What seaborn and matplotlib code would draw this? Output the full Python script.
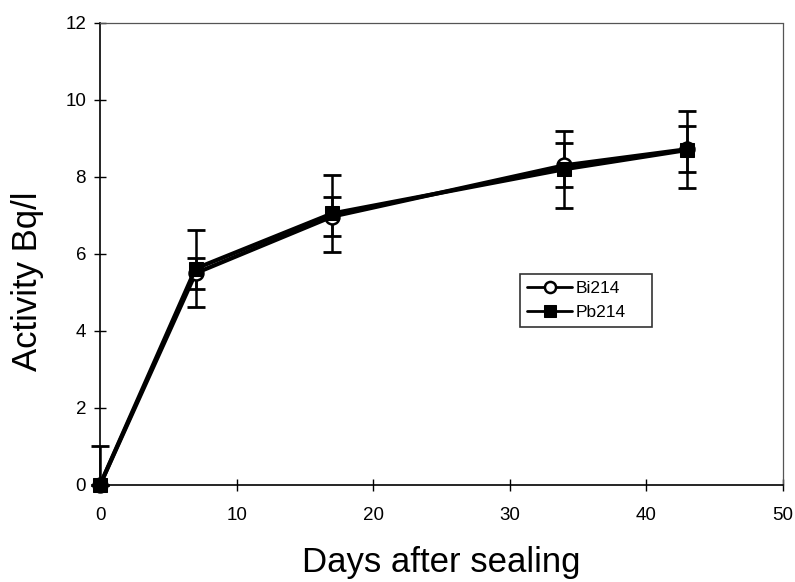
import numpy as np
import pandas as pd
import matplotlib
matplotlib.use("Agg")
import matplotlib.pyplot as plt
import seaborn as sns

# values
days = [0, 7, 17, 34, 43]
bi214 = [0.0, 5.5, 6.97, 8.3, 8.72]
bi214_err = [0.0, 0.4, 0.5, 0.57, 0.6]
pb214 = [0.0, 5.62, 7.05, 8.2, 8.7]
pb214_err_low = [0.0, 1.0, 1.0, 1.0, 1.0]
pb214_err_high = [1.0, 1.0, 1.0, 1.0, 1.0]

df = pd.DataFrame({
    "Days": days * 2,
    "Activity": bi214 + pb214,
    "Nuclide": ["Bi214"] * len(days) + ["Pb214"] * len(days),
})

sns.set_style("ticks")
plt.rcParams["font.family"] = ["Liberation Sans", "DejaVu Sans"]
plt.rcParams["text.color"] = "black"
plt.rcParams["axes.labelcolor"] = "black"

fig = plt.figure(figsize=(7.95, 5.82), dpi=100)
ax = fig.add_axes([0.1258, 0.1667, 0.859, 0.794])

# error bars first so markers sit on top
ax.errorbar(days, pb214, yerr=[pb214_err_low, pb214_err_high], fmt="none",
            ecolor="black", elinewidth=1.8, capsize=6.5, capthick=2,
            zorder=2, clip_on=False)
ax.errorbar(days, bi214, yerr=bi214_err, fmt="none", ecolor="black",
            elinewidth=1.8, capsize=6.5, capthick=2, zorder=2, clip_on=False)

sns.lineplot(data=df, x="Days", y="Activity", hue="Nuclide", style="Nuclide",
             markers={"Bi214": "o", "Pb214": "s"}, dashes=False,
             palette={"Bi214": "black", "Pb214": "black"},
             linewidth=3, markersize=10, ax=ax, zorder=3, clip_on=False)

for line in ax.get_lines():
    if line.get_marker() == "o":
        line.set_markerfacecolor("white")
        line.set_markeredgecolor("black")
        line.set_markeredgewidth(1.8)
    elif line.get_marker() == "s":
        line.set_markerfacecolor("black")
        line.set_markeredgecolor("black")

ax.set_xlim(0, 50)
ax.set_ylim(0, 12)
ax.set_xticks(range(0, 51, 10))
ax.set_yticks(range(0, 13, 2))
ax.tick_params(direction="inout", length=8, width=1, labelsize=13.5, colors="black")
ax.tick_params(axis="x", pad=12)
ax.tick_params(axis="y", pad=6)

for side in ["left", "bottom"]:
    ax.spines[side].set_color("black")
    ax.spines[side].set_linewidth(1.2)
for side in ["top", "right"]:
    ax.spines[side].set_visible(True)
    ax.spines[side].set_color("#555555")
    ax.spines[side].set_linewidth(0.9)
ax.spines["right"].set_linestyle((0, (4, 1)))

ax.set_xlabel("Days after sealing", fontsize=25)
ax.set_ylabel("Activity Bq/l", fontsize=25)
ax.xaxis.set_label_coords(0.5, -0.132)
ax.yaxis.set_label_coords(-0.082, 0.44)

handles, labels = ax.get_legend_handles_labels()
for h in handles:
    h.set_linewidth(2)
    h.set_markersize(8)
leg = ax.legend(handles, labels, loc="lower left",
                bbox_to_anchor=(0.615, 0.342, 0.193, 0.141), mode="expand",
                frameon=True, fancybox=False, fontsize=12.5, handlelength=2.6,
                handletextpad=0.2, borderaxespad=0, borderpad=0.4,
                labelspacing=0.5)
leg.get_frame().set_edgecolor("black")
leg.get_frame().set_linewidth(1.2)

fig.savefig("out.png", dpi=100)
